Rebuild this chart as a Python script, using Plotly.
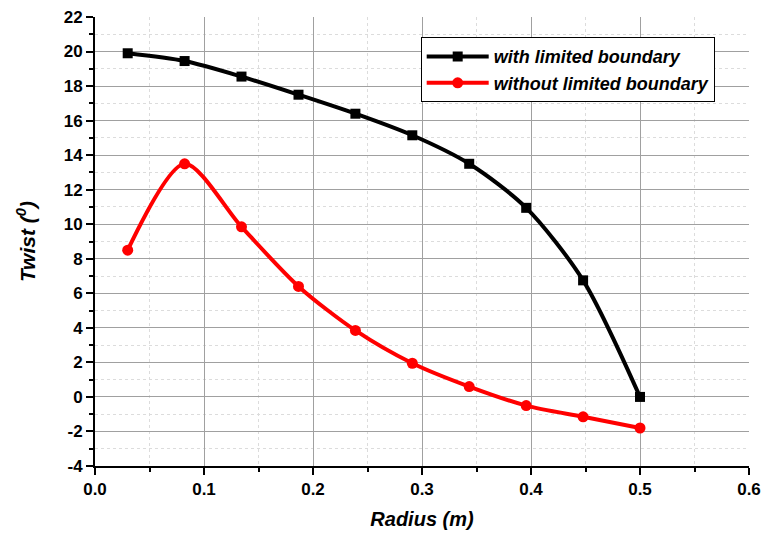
import plotly.graph_objects as go

radius = [0.03, 0.0822, 0.1344, 0.1867, 0.2389, 0.2911, 0.3433, 0.3956, 0.4478, 0.5]
twist_limited = [19.9, 19.45, 18.55, 17.5, 16.4, 15.15, 13.5, 10.95, 6.75, 0.0]
twist_unlimited = [8.5, 13.5, 9.85, 6.4, 3.85, 1.95, 0.6, -0.5, -1.15, -1.8]
series_names = ["with limited boundary", "without limited boundary"]
x_ticks = [0.0, 0.1, 0.2, 0.3, 0.4, 0.5, 0.6]
y_ticks = [-4, -2, 0, 2, 4, 6, 8, 10, 12, 14, 16, 18, 20, 22]

FONT = "Liberation Sans, Arial, sans-serif"

fig = go.Figure()
fig.add_trace(go.Scatter(
    x=radius, y=twist_limited, mode="lines+markers",
    name="<b><i>" + series_names[0] + "</i></b>",
    line=dict(color="black", width=4, shape="spline", smoothing=0.8),
    marker=dict(symbol="square", size=10, color="black"),
))
fig.add_trace(go.Scatter(
    x=radius, y=twist_unlimited, mode="lines+markers",
    name="<b><i>" + series_names[1] + "</i></b>",
    line=dict(color="#ff0000", width=4, shape="spline", smoothing=0.8),
    marker=dict(symbol="circle", size=11, color="#ff0000"),
))

axis_common = dict(
    showline=True, linecolor="black", linewidth=2,
    ticks="outside", ticklen=7, tickwidth=2, tickcolor="black",
    showgrid=True, gridcolor="#a0a0a0", gridwidth=1,
    zeroline=False, automargin=False,
    tickfont=dict(family=FONT, size=17, color="black"),
)

fig.update_xaxes(
    range=[0, 0.6], tickmode="array", tickvals=x_ticks,
    ticktext=["<b>%.1f</b>" % v for v in x_ticks],
    title=dict(text="<b><i>Radius (m)</i></b>", font=dict(family=FONT, size=20, color="black"), standoff=14),
    minor=dict(dtick=0.05, tick0=0, ticks="outside", ticklen=4, tickwidth=2, tickcolor="black",
               showgrid=True, gridcolor="#dcdcdc", griddash="dot", gridwidth=1),
    **axis_common,
)
fig.update_yaxes(
    range=[-4, 22], tickmode="array", tickvals=y_ticks,
    ticktext=["<b>%d</b>" % v for v in y_ticks],
    title=dict(text="<b><i>Twist (<sup>0</sup>)</i></b>", font=dict(family=FONT, size=21, color="black"), standoff=22),
    minor=dict(dtick=1, tick0=0, ticks="outside", ticklen=4, tickwidth=2, tickcolor="black",
               showgrid=True, gridcolor="#dcdcdc", griddash="dot", gridwidth=1),
    **axis_common,
)

fig.update_layout(
    width=763, height=538,
    margin=dict(l=95, r=14, t=17, b=72),
    paper_bgcolor="white", plot_bgcolor="white",
    showlegend=True,
    legend=dict(
        x=0.498, y=0.955, xanchor="left", yanchor="top",
        bgcolor="white", bordercolor="black", borderwidth=1,
        font=dict(family=FONT, size=18, color="black"),
        itemwidth=62, tracegroupgap=0,
    ),
)

fig.write_html("out.html")
